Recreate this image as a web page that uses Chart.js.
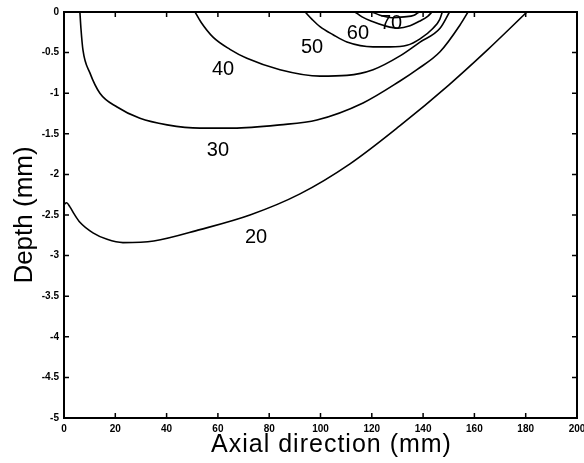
<!DOCTYPE html>
<html>
<head>
<meta charset="utf-8">
<script src="https://cdn.jsdelivr.net/npm/chart.js@4"></script>
<style>
  html, body { margin: 0; padding: 0; background: #fff; }
</style>
</head>
<body>
<canvas id="plot" width="584" height="463"></canvas>
<script>
// Isotherm contour lines: [axial position (mm), depth (mm)]
const c20 = [[0, -2.37], [1, -2.35], [2.3, -2.4], [4, -2.49], [6.2, -2.59], [11.3, -2.72], [16.8, -2.8], [23, -2.84],
  [35, -2.82], [53, -2.68], [72.5, -2.5], [92, -2.24], [111.5, -1.87], [131, -1.4], [150, -0.9], [165, -0.47], [180.5, 0]];
const c30 = [[6.2, 0], [6.6, -0.2], [7.4, -0.47], [10.1, -0.75], [14, -1.0], [20.7, -1.17], [29.6, -1.31], [40.2, -1.39],
  [53, -1.43], [65.9, -1.43], [84.2, -1.39], [98.6, -1.33], [116.6, -1.12], [131, -0.85], [137.6, -0.71], [146.6, -0.49],
  [154.4, -0.16], [157.5, 0]];
const c40 = [[51.1, 0], [53.5, -0.13], [58.1, -0.31], [64.7, -0.46], [71.3, -0.57], [84.2, -0.71], [99.8, -0.79],
  [110.3, -0.78], [120.5, -0.71], [131, -0.54], [138.8, -0.37], [146.6, -0.2], [150.3, 0]];
const c50 = [[94, 0], [96.7, -0.09], [99.8, -0.18], [104.9, -0.28], [110.3, -0.37], [120.5, -0.43], [127.1, -0.43],
  [133.7, -0.41], [138.8, -0.33], [143.9, -0.2], [146.5, -0.09], [147.5, 0]];
const c60 = [[113.5, 0], [116.2, -0.06], [120.5, -0.12], [125.1, -0.17], [130.2, -0.2], [134.9, -0.17], [138.8, -0.11],
  [141.9, -0.05], [143.5, 0]];
const c70 = [[120.1, 0], [123.2, -0.04], [127.9, -0.07], [132.6, -0.06], [136.5, -0.04], [138.4, 0]];

const levels = [20, 30, 40, 50, 60, 70];
const contours = [c20, c30, c40, c50, c60, c70];

// where each level's number is written
const labelX = [74.9, 60, 62, 96.7, 114.6, 127.5];
const labelY = [-2.78, -1.71, -0.71, -0.44, -0.26, -0.14];

const xTicks = [0, 20, 40, 60, 80, 100, 120, 140, 160, 180, 200];
const yTicks = [0, -0.5, -1, -1.5, -2, -2.5, -3, -3.5, -4, -4.5, -5];

const xTitle = 'Axial direction (mm)';
const yTitle = 'Depth (mm)';

const FONT = '"Liberation Sans", Arial, Helvetica, sans-serif';

const datasets = contours.map((pts, i) => ({
  label: String(levels[i]),
  data: pts.map(p => ({ x: p[0], y: p[1] })),
  showLine: true,
  borderColor: '#000',
  borderWidth: 1.6,
  pointRadius: 0,
  cubicInterpolationMode: 'monotone',
  fill: false
}));

// box round the plot with MATLAB-style inward ticks on every side
const framePlugin = {
  id: 'frame',
  afterDraw(chart) {
    const { ctx, chartArea: a, scales } = chart;
    const len = 5;
    ctx.save();
    ctx.strokeStyle = '#000';
    ctx.lineWidth = 2;
    ctx.strokeRect(a.left, a.top, a.right - a.left, a.bottom - a.top);
    ctx.lineWidth = 1.5;
    ctx.beginPath();
    xTicks.forEach(v => {
      const px = scales.x.getPixelForValue(v);
      ctx.moveTo(px, a.bottom); ctx.lineTo(px, a.bottom - len);
      ctx.moveTo(px, a.top); ctx.lineTo(px, a.top + len);
    });
    yTicks.forEach(v => {
      const py = scales.y.getPixelForValue(v);
      ctx.moveTo(a.left, py); ctx.lineTo(a.left + len, py);
      ctx.moveTo(a.right, py); ctx.lineTo(a.right - len, py);
    });
    ctx.stroke();
    ctx.restore();
  }
};

// level numbers next to each isotherm, plus the wide-set x axis title
const textPlugin = {
  id: 'plotText',
  afterDatasetsDraw(chart) {
    const { ctx, scales, chartArea: a } = chart;
    ctx.save();
    ctx.fillStyle = '#000';
    ctx.font = '20px ' + FONT;
    ctx.textAlign = 'center';
    ctx.textBaseline = 'middle';
    levels.forEach((lv, i) => {
      ctx.fillText(String(lv), scales.x.getPixelForValue(labelX[i]), scales.y.getPixelForValue(labelY[i]));
    });

    ctx.font = '25px ' + FONT;
    ctx.letterSpacing = '1px';
    ctx.fillText(xTitle, (a.left + a.right) / 2 + 11, chart.height - 18);
    ctx.restore();
  }
};

new Chart(document.getElementById('plot').getContext('2d'), {
  type: 'scatter',
  data: { datasets },
  options: {
    responsive: false,
    animation: false,
    devicePixelRatio: 1,
    layout: { padding: { top: 12, right: 7, left: 0, bottom: 0 } },
    plugins: {
      legend: { display: false },
      tooltip: { enabled: false }
    },
    scales: {
      x: {
        type: 'linear',
        min: 0,
        max: 200,
        afterFit(scale) {
          scale.height = 45;
          scale.paddingLeft = 0;
          scale.paddingRight = 0;
        },
        afterBuildTicks(scale) { scale.ticks = xTicks.map(v => ({ value: v })); },
        grid: { display: false, drawTicks: false },
        border: { display: false },
        ticks: {
          color: '#000',
          padding: 5,
          maxRotation: 0,
          autoSkip: false,
          font: { family: FONT, size: 10, weight: 'bold' }
        },
        title: { display: false }
      },
      y: {
        type: 'linear',
        min: -5,
        max: 0,
        afterFit(scale) {
          scale.width = 64;
          scale.paddingTop = 0;
          scale.paddingBottom = 0;
        },
        afterBuildTicks(scale) { scale.ticks = yTicks.map(v => ({ value: v })); },
        grid: { display: false, drawTicks: false },
        border: { display: false },
        ticks: {
          color: '#000',
          padding: 5,
          autoSkip: false,
          callback: v => String(v),
          font: { family: FONT, size: 10, weight: 'bold' }
        },
        title: {
          display: true,
          text: yTitle,
          color: '#000',
          padding: { top: 12, bottom: 0 },
          font: { family: FONT, size: 26, lineHeight: 1 }
        }
      }
    }
  },
  plugins: [framePlugin, textPlugin]
});
</script>
</body>
</html>
